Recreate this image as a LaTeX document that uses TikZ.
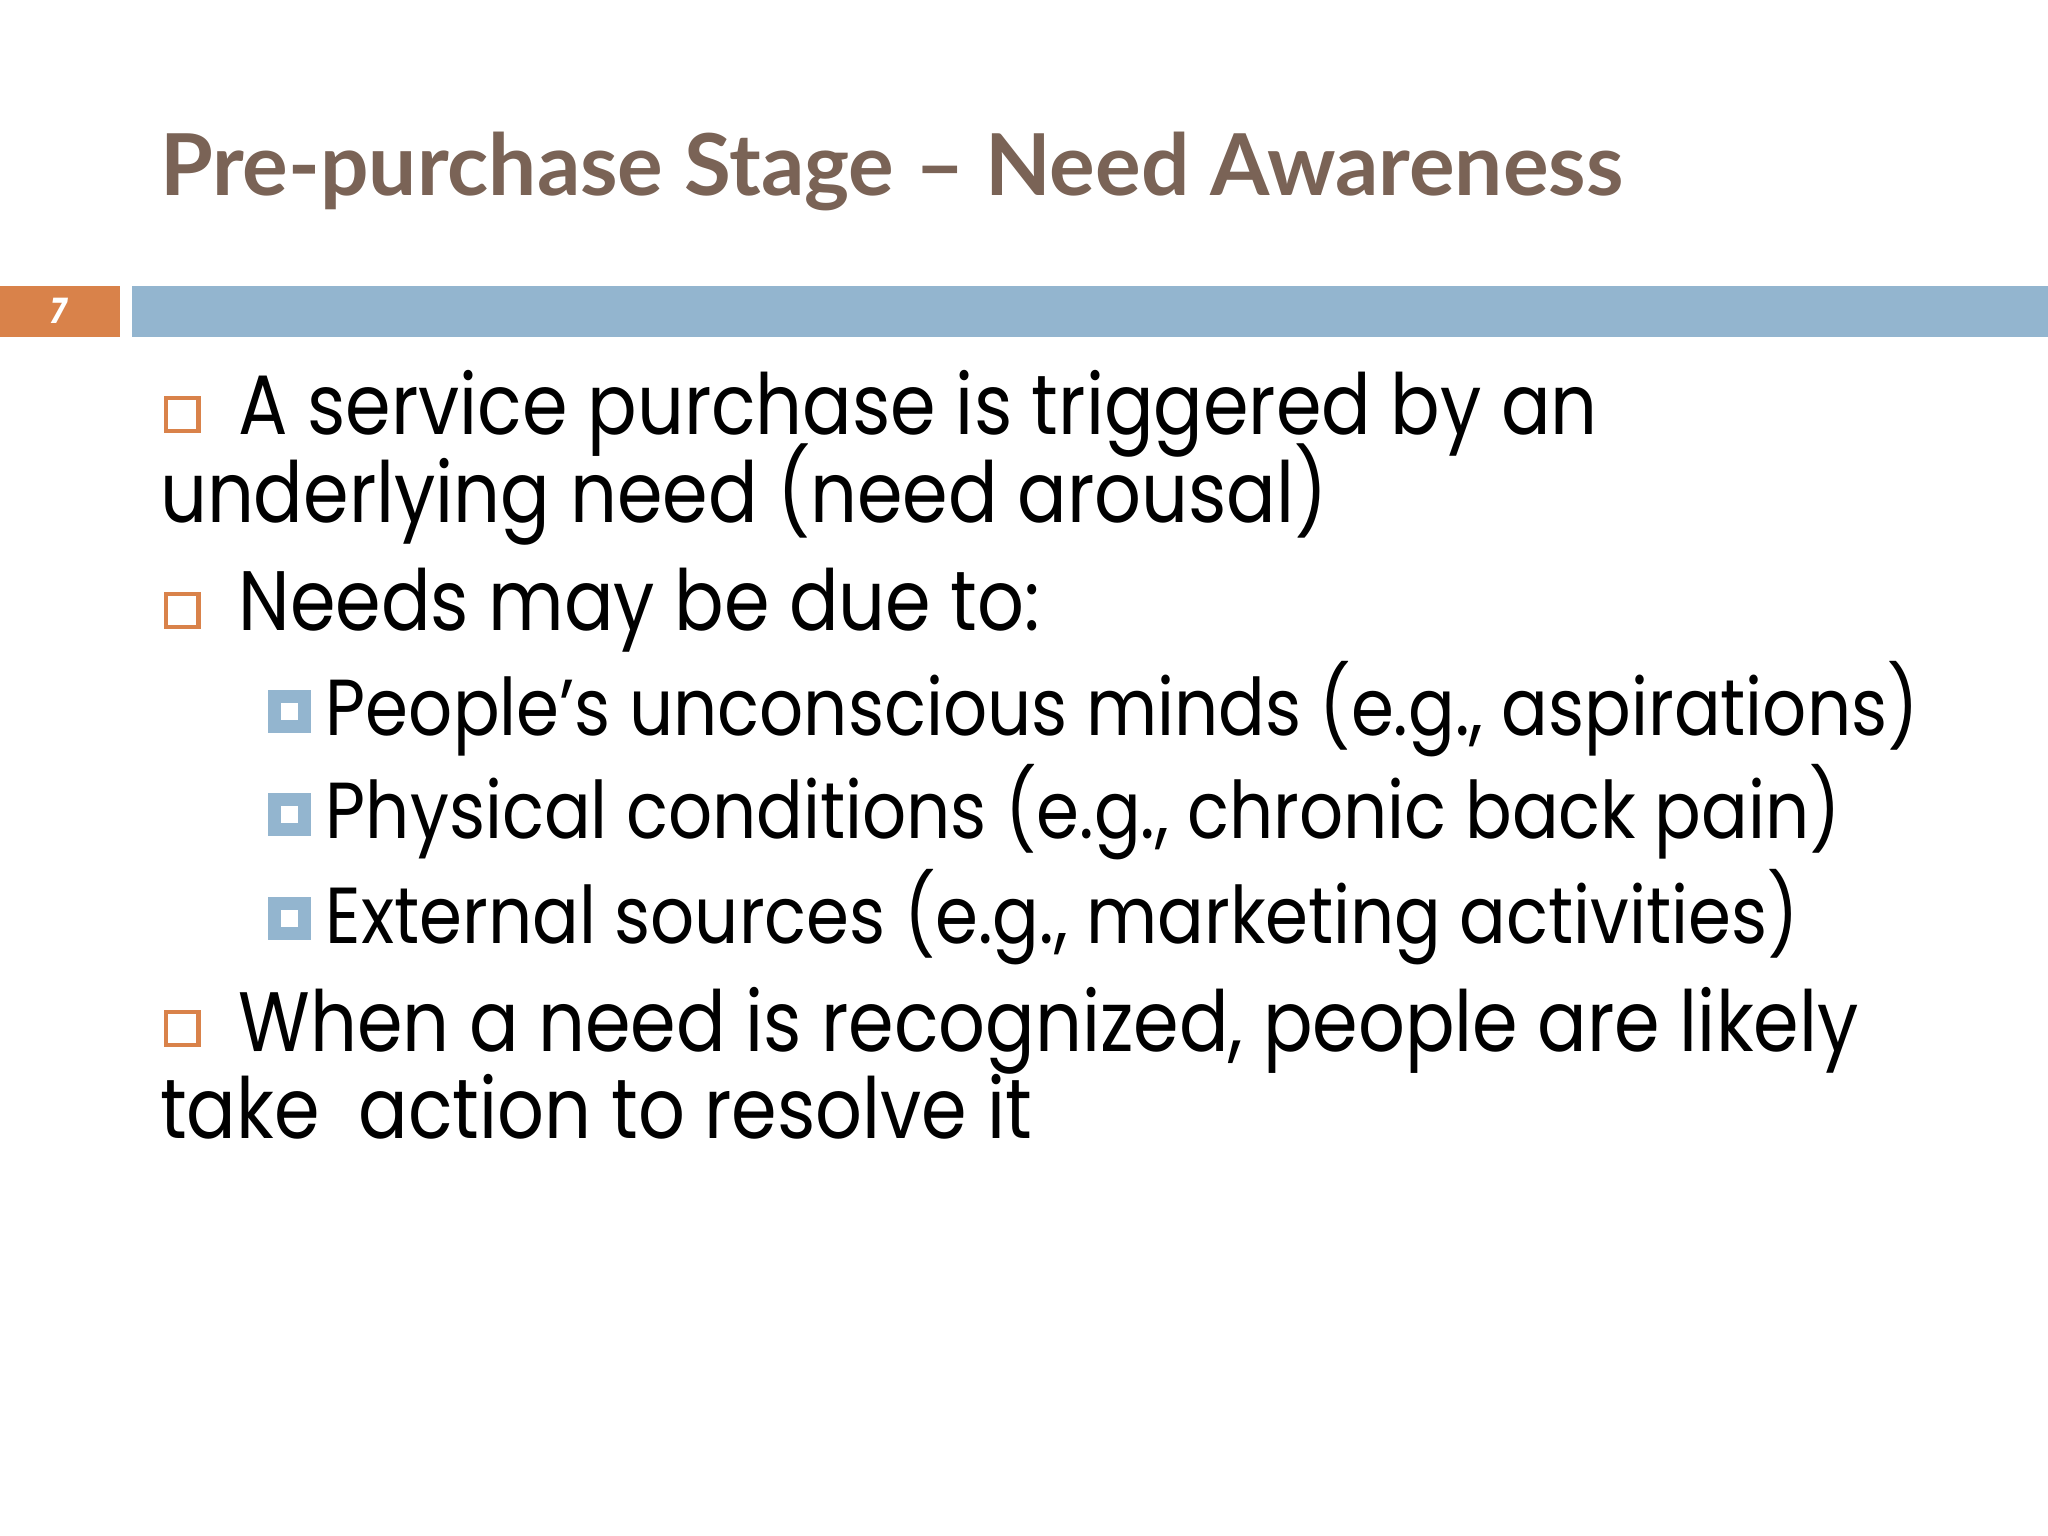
\documentclass[tikz,border=0pt]{standalone}
\usepackage{fontspec}
\setmainfont{Poppins}[FakeStretch=0.87]
\newfontfamily\titlefont{Lato}
\definecolor{titlec}{HTML}{7A6356}
\definecolor{orng}{HTML}{D9824A}
\definecolor{bluec}{HTML}{93B5CF}
\begin{document}
\begin{tikzpicture}[x=0.013061cm,y=-0.013061cm,
  body/.style={anchor=base west,inner sep=0pt,font=\fontsize{24}{28}\selectfont},
  sub/.style={anchor=base west,inner sep=0pt,font=\fontsize{22.6}{27}\selectfont},
  obul/.style={draw=orng,line width=1.2pt},
  bbul/.style={fill=bluec}]
\useasboundingbox[fill=white] (0,0) rectangle (1568,1176);
\node[anchor=base west,inner sep=0pt,text=titlec,font=\titlefont\bfseries\fontsize{24.3}{30}\selectfont] (title) at (122,150) {Pre-purchase Stage – Need Awareness};
\fill[orng] (0,219) rectangle (92,258);
\node[text=white,font=\itshape\bfseries\fontsize{10}{12}\selectfont] (num) at (45,238) {7};
\fill[bluec] (101,219) rectangle (1568,258);
% bullets
\draw[obul] (127,305) rectangle (152,330);
\node[body] (l1) at (182,333) {A service purchase is triggered by an};
\node[body] (l1b) at (122,400) {underlying need (need arousal)};
\draw[obul] (127,455) rectangle (152,480);
\node[body] (l2) at (182,483) {Needs may be due to:};
\foreach \y/\t [count=\i] in {563/{People’s unconscious minds (e.g., aspirations)},642/{Physical conditions (e.g., chronic back pain)},722/{External sources (e.g., marketing activities)}}{
  \fill[bluec] (205,\y-35) rectangle (238,\y-2);
  \fill[white] (215,\y-25) rectangle (228,\y-12);
  \node[sub] (s\i) at (249,\y) {\t};
}
\draw[obul] (127,775) rectangle (152,800);
\node[body] (l3) at (182,805) {When a need is recognized, people are likely};
\node[body] (l3b) at (122,872) {take\ \ action to resolve it};
\end{tikzpicture}
\end{document}
